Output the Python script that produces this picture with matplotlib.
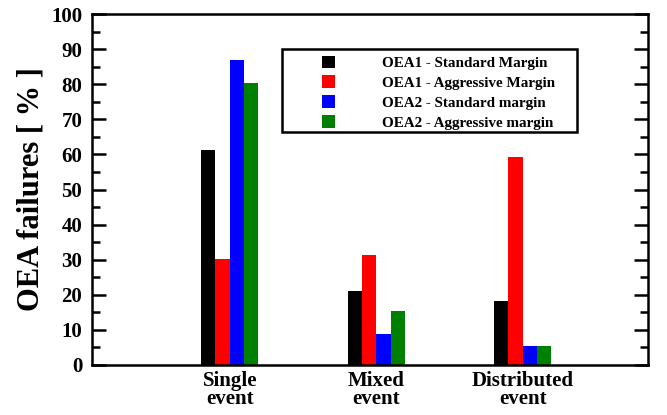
import numpy as np
import matplotlib
matplotlib.use("Agg")
import matplotlib.pyplot as plt
from matplotlib.patches import Rectangle, Patch

plt.rcParams['font.family'] = ['Liberation Serif', 'DejaVu Serif']
plt.rcParams['font.weight'] = 'bold'

# data
categories = ["Single\nevent", "Mixed\nevent", "Distributed\nevent"]
series_labels = ["OEA1 - Standard Margin", "OEA1 - Aggressive Margin",
                 "OEA2 - Standard margin", "OEA2 - Aggressive margin"]
oea1_standard = [61.3, 21.1, 18.3]
oea1_aggressive = [30.3, 31.3, 59.3]
oea2_standard = [87.0, 8.8, 5.3]
oea2_aggressive = [80.3, 15.4, 5.5]
series_colors = ["#000000", "#ff0000", "#0000ff", "#008000"]

series = [oea1_standard, oea1_aggressive, oea2_standard, oea2_aggressive]

fig = plt.figure(figsize=(6.67, 4.15), dpi=100)
ax = fig.add_axes([0.138, 0.1205, 0.8335, 0.8455])

x = np.arange(1, len(categories) + 1)
width = 0.098
for i, (vals, col) in enumerate(zip(series, series_colors)):
    ax.bar(x + (i - 1.5) * width, vals, width, color=col, edgecolor='none')

ax.set_xlim(0.06, 3.855)
ax.set_ylim(0, 100)

ax.set_yticks(np.arange(0, 101, 10))
ax.set_yticks(np.arange(0, 101, 5), minor=True)
ax.tick_params(axis='y', which='both', direction='in', left=True, right=True,
               width=1.8, labelsize=15, pad=7)
ax.tick_params(axis='y', which='major', length=10)
ax.tick_params(axis='y', which='minor', length=6)
ax.set_xticks(x)
ax.set_xticklabels(categories, fontsize=15, fontweight='bold', linespacing=0.92)
ax.tick_params(axis='x', length=0, pad=4)

for s in ax.spines.values():
    s.set_linewidth(1.8)

ax.set_ylabel("OEA failures [ % ]", fontsize=22, fontweight='bold', labelpad=4)

# legend with wide left margin, framed by hand
ax.add_patch(Rectangle((0.342, 0.664), 0.531, 0.237, transform=ax.transAxes,
                       fill=False, edgecolor='black', linewidth=1.8, zorder=5))
handles = [Patch(facecolor=c, edgecolor='none') for c in series_colors]
ax.legend(handles, series_labels, loc='upper left', bbox_to_anchor=(0.413, 0.882),
          frameon=False, borderpad=0, borderaxespad=0, handlelength=0.9,
          handleheight=0.9, handletextpad=3.1, labelspacing=0.36,
          prop={'size': 10.9, 'weight': 'bold'})

fig.savefig("out.png", dpi=100)
